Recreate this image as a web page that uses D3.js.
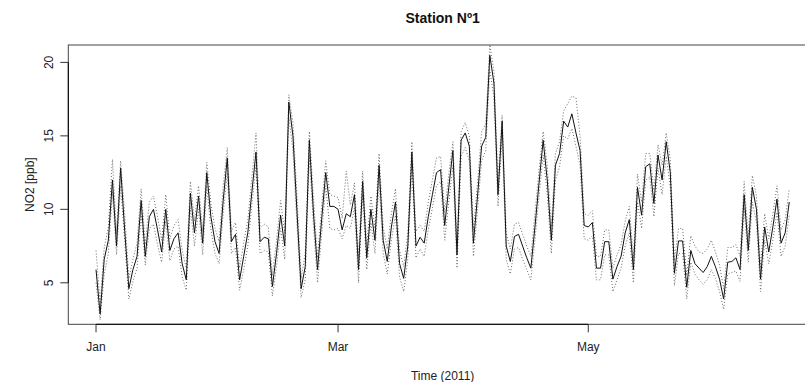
<!DOCTYPE html>
<html>
<head>
<meta charset="utf-8">
<script src="https://cdn.jsdelivr.net/npm/d3@7"></script>
<style>
  body { margin: 0; background: #fff; }
  svg { display: block; font-family: "Liberation Sans", Arial, Helvetica, sans-serif; }
</style>
</head>
<body>
<svg id="chart" width="805" height="382"></svg>
<script>
// daily NO2 values, 1 Jan 2011 onwards
const values = [
  5.9, 2.88, 6.6, 7.9, 12.0, 7.5, 12.8, 8.5, 4.6, 5.9,
  6.8, 10.6, 6.8, 9.5, 10.0, 8.6, 7.1, 10.0, 7.2, 8.0,
  8.4, 6.3, 5.2, 11.1, 8.4, 10.9, 7.7, 12.5, 9.5, 7.8,
  7.0, 10.6, 13.5, 7.8, 8.3, 5.2, 6.8, 8.4, 11.2, 13.9,
  7.8, 8.1, 8.0, 4.75, 7.0, 9.6, 7.5, 17.3, 15.0, 9.8,
  4.6, 6.1, 14.7, 9.8, 5.9, 9.3, 12.5, 10.2, 10.2, 10.0,
  8.6, 9.7, 9.5, 11.0, 5.9, 11.9, 6.7, 10.0, 7.9, 13.0,
  7.9, 6.45, 8.8, 10.5, 6.3, 5.3, 7.5, 13.9, 7.5, 8.1,
  7.7, 9.5, 11.0, 12.5, 12.7, 8.9, 11.5, 14.0, 6.9, 14.7,
  15.2, 14.3, 7.7, 10.9, 14.3, 14.9, 20.48, 18.6, 11.0, 16.0,
  7.5, 6.45, 8.15, 8.3, 7.5, 6.7, 6.0, 8.8, 11.8, 14.7,
  12.0, 7.9, 13.0, 13.8, 16.0, 15.6, 16.5, 15.2, 14.0, 8.9,
  8.8, 9.1, 6.0, 6.0, 7.8, 7.8, 5.25, 6.1, 6.8, 8.4,
  9.3, 5.9, 11.5, 9.6, 12.9, 13.1, 10.4, 13.7, 12.0, 14.6,
  12.5, 5.65, 7.85, 7.85, 4.7, 7.2, 6.3, 6.0, 5.7, 6.1,
  6.8, 6.1, 5.25, 3.9, 6.4, 6.45, 6.7, 5.9, 11.0, 7.2,
  11.5, 10.0, 5.25, 8.8, 7.1, 8.8, 10.7, 7.7, 8.4, 10.5
];

// dotted bands
const upper = [
  7.2, 3.6, 7.4, 8.8, 13.4, 8.3, 13.3, 9.6, 5.3, 6.6,
  7.7, 11.4, 7.6, 10.5, 10.9, 9.5, 7.9, 11.0, 8.0, 8.9,
  9.3, 7.2, 6.0, 11.9, 9.2, 11.6, 8.5, 13.2, 10.4, 8.7,
  7.8, 11.6, 14.2, 8.5, 9.1, 6.0, 7.7, 9.3, 12.2, 15.2,
  8.7, 9.0, 8.8, 5.5, 7.9, 10.6, 8.4, 17.8, 15.9, 10.8,
  5.3, 7.0, 15.3, 10.8, 6.7, 10.2, 13.3, 11.0, 10.9, 10.8,
  9.4, 12.6, 10.3, 11.8, 6.7, 12.6, 7.5, 10.9, 8.7, 13.8,
  8.8, 7.3, 9.7, 11.4, 7.2, 6.1, 8.4, 14.6, 8.5, 8.9,
  8.5, 10.5, 12.0, 13.5, 13.6, 9.8, 12.4, 14.6, 7.8, 15.3,
  15.9, 15.0, 8.6, 11.8, 15.3, 15.8, 21.2, 19.4, 11.9, 16.4,
  8.4, 7.3, 9.0, 9.1, 8.3, 7.5, 6.8, 9.7, 12.7, 15.3,
  13.0, 8.8, 13.8, 14.6, 16.7, 17.2, 17.7, 17.6, 15.0, 9.7,
  9.6, 9.9, 6.8, 6.8, 8.6, 8.6, 6.0, 6.9, 7.6, 9.2,
  10.2, 6.7, 12.4, 10.5, 13.8, 13.8, 11.3, 14.4, 13.0, 15.2,
  13.4, 6.5, 8.7, 8.7, 5.5, 8.2, 7.5, 7.1, 7.0, 7.3,
  7.9, 7.1, 6.2, 4.6, 7.4, 7.4, 7.6, 6.8, 11.9, 8.1,
  12.3, 10.9, 6.1, 9.7, 8.0, 9.7, 11.6, 8.6, 9.3, 11.4
];

const lower = [
  5.0, 2.48, 5.6, 7.0, 11.2, 6.9, 11.6, 7.8, 3.9, 5.1,
  6.0, 9.7, 6.2, 8.7, 9.0, 7.6, 6.4, 9.2, 6.5, 7.3,
  7.5, 5.4, 4.5, 10.1, 7.5, 10.0, 6.9, 11.6, 8.6, 7.0,
  6.3, 9.7, 12.5, 7.0, 7.4, 4.5, 5.9, 7.5, 10.3, 13.0,
  7.0, 7.2, 7.1, 4.1, 6.1, 8.7, 6.6, 16.3, 14.0, 8.9,
  4.0, 5.2, 13.7, 8.9, 5.0, 8.3, 11.6, 8.7, 8.6, 8.7,
  8.0, 8.9, 8.7, 10.1, 5.0, 11.0, 5.9, 9.1, 7.0, 12.0,
  7.0, 5.6, 7.9, 9.6, 5.4, 4.4, 6.6, 12.9, 6.7, 7.3,
  6.8, 8.6, 10.1, 11.6, 11.9, 7.9, 10.5, 13.0, 6.0, 13.6,
  14.2, 13.3, 6.8, 9.9, 13.3, 14.0, 19.5, 17.6, 10.2, 15.0,
  6.6, 5.6, 7.3, 7.4, 6.6, 5.9, 5.2, 7.9, 10.9, 13.7,
  11.0, 7.0, 12.0, 12.9, 15.0, 14.8, 15.5, 14.3, 13.0, 8.0,
  7.9, 8.2, 5.2, 5.2, 6.9, 6.9, 4.4, 5.2, 6.0, 7.5,
  8.4, 5.0, 10.5, 8.7, 12.0, 12.2, 9.5, 12.8, 11.0, 13.6,
  11.5, 4.8, 7.0, 7.0, 3.9, 6.4, 5.6, 5.2, 4.9, 5.2,
  5.9, 5.3, 4.4, 3.2, 5.6, 5.7, 5.8, 5.1, 10.1, 6.4,
  10.5, 9.1, 4.4, 7.9, 6.3, 7.9, 9.8, 6.8, 7.5, 9.6
];

const yTicks = [5, 10, 15, 20];
const monthTicks = ['2011-01-01', '2011-03-01', '2011-05-01'];
const monthLabels = ['Jan', 'Mar', 'May'];

const start = Date.UTC(2011, 0, 1);
const DAY = 86400000;
const dates = values.map((v, i) => new Date(start + i * DAY));

const svg = d3.select('#chart');
const plotLeft = 68.3, plotRight = 817, plotTop = 45, plotBottom = 324.3;

// R style 4% padding on both axes
const xPad = (dates.length - 1) * 0.04 * DAY;
const x = d3.scaleUtc()
  .domain([new Date(start - xPad), new Date(+dates[dates.length - 1] + xPad)])
  .range([plotLeft, plotRight]);

const [vmin, vmax] = d3.extent(values);
const yPad = (vmax - vmin) * 0.04;
const y = d3.scaleLinear()
  .domain([vmin - yPad, vmax + yPad])
  .range([plotBottom, plotTop]);

svg.append('defs').append('clipPath').attr('id', 'plotclip')
  .append('rect')
  .attr('x', plotLeft).attr('y', plotTop)
  .attr('width', plotRight - plotLeft).attr('height', plotBottom - plotTop);

const plot = svg.append('g').attr('clip-path', 'url(#plotclip)');

const line = (arr) => d3.line()
  .x((d, i) => x(dates[i]))
  .y((d) => y(d))(arr);

[upper, lower].forEach(band => {
  plot.append('path')
    .attr('d', line(band))
    .attr('fill', 'none')
    .attr('stroke', '#6a6a6a')
    .attr('stroke-width', 1)
    .attr('stroke-dasharray', '1,2');
});

plot.append('path')
  .attr('d', line(values))
  .attr('fill', 'none')
  .attr('stroke', '#111')
  .attr('stroke-width', 1);

// box
svg.append('rect')
  .attr('x', plotLeft).attr('y', plotTop)
  .attr('width', plotRight - plotLeft).attr('height', plotBottom - plotTop)
  .attr('fill', 'none')
  .attr('stroke', '#444')
  .attr('stroke-width', 1);

// x axis
const xTickDates = monthTicks.map(s => new Date(s + 'T00:00:00Z'));
const xAxis = svg.append('g').attr('transform', `translate(0,${plotBottom})`);
xAxis.append('line')
  .attr('x1', x(xTickDates[0])).attr('x2', x(xTickDates[xTickDates.length - 1]))
  .attr('stroke', '#000');
xTickDates.forEach((d, i) => {
  xAxis.append('line')
    .attr('x1', x(d)).attr('x2', x(d))
    .attr('y1', 0).attr('y2', 8)
    .attr('stroke', '#333');
  xAxis.append('text')
    .attr('x', x(d)).attr('y', 27)
    .attr('text-anchor', 'middle')
    .attr('font-size', '12px')
    .attr('fill', '#222')
    .text(monthLabels[i]);
});

// y axis
const yAxis = svg.append('g').attr('transform', `translate(${plotLeft},0)`);
yAxis.append('line')
  .attr('y1', y(yTicks[0])).attr('y2', y(yTicks[yTicks.length - 1]))
  .attr('stroke', '#000');
yTicks.forEach(t => {
  yAxis.append('line')
    .attr('x1', -8).attr('x2', 0)
    .attr('y1', y(t)).attr('y2', y(t))
    .attr('stroke', '#333');
  yAxis.append('text')
    .attr('transform', `translate(-15.8,${y(t)}) rotate(-90)`)
    .attr('text-anchor', 'middle')
    .attr('font-size', '12px')
    .attr('fill', '#222')
    .text(t);
});

svg.append('text')
  .attr('x', (plotLeft + plotRight) / 2).attr('y', 22.7)
  .attr('text-anchor', 'middle')
  .attr('font-size', '14px')
  .attr('font-weight', 'bold')
  .attr('fill', '#111')
  .text('Station Nº1');

svg.append('text')
  .attr('x', (plotLeft + plotRight) / 2).attr('y', 380)
  .attr('text-anchor', 'middle')
  .attr('font-size', '12px')
  .attr('fill', '#222')
  .text('Time (2011)');

svg.append('text')
  .attr('transform', `translate(33.6,${(plotTop + plotBottom) / 2}) rotate(-90)`)
  .attr('text-anchor', 'middle')
  .attr('font-size', '12px')
  .attr('fill', '#222')
  .text('NO2 [ppb]');
</script>
</body>
</html>
